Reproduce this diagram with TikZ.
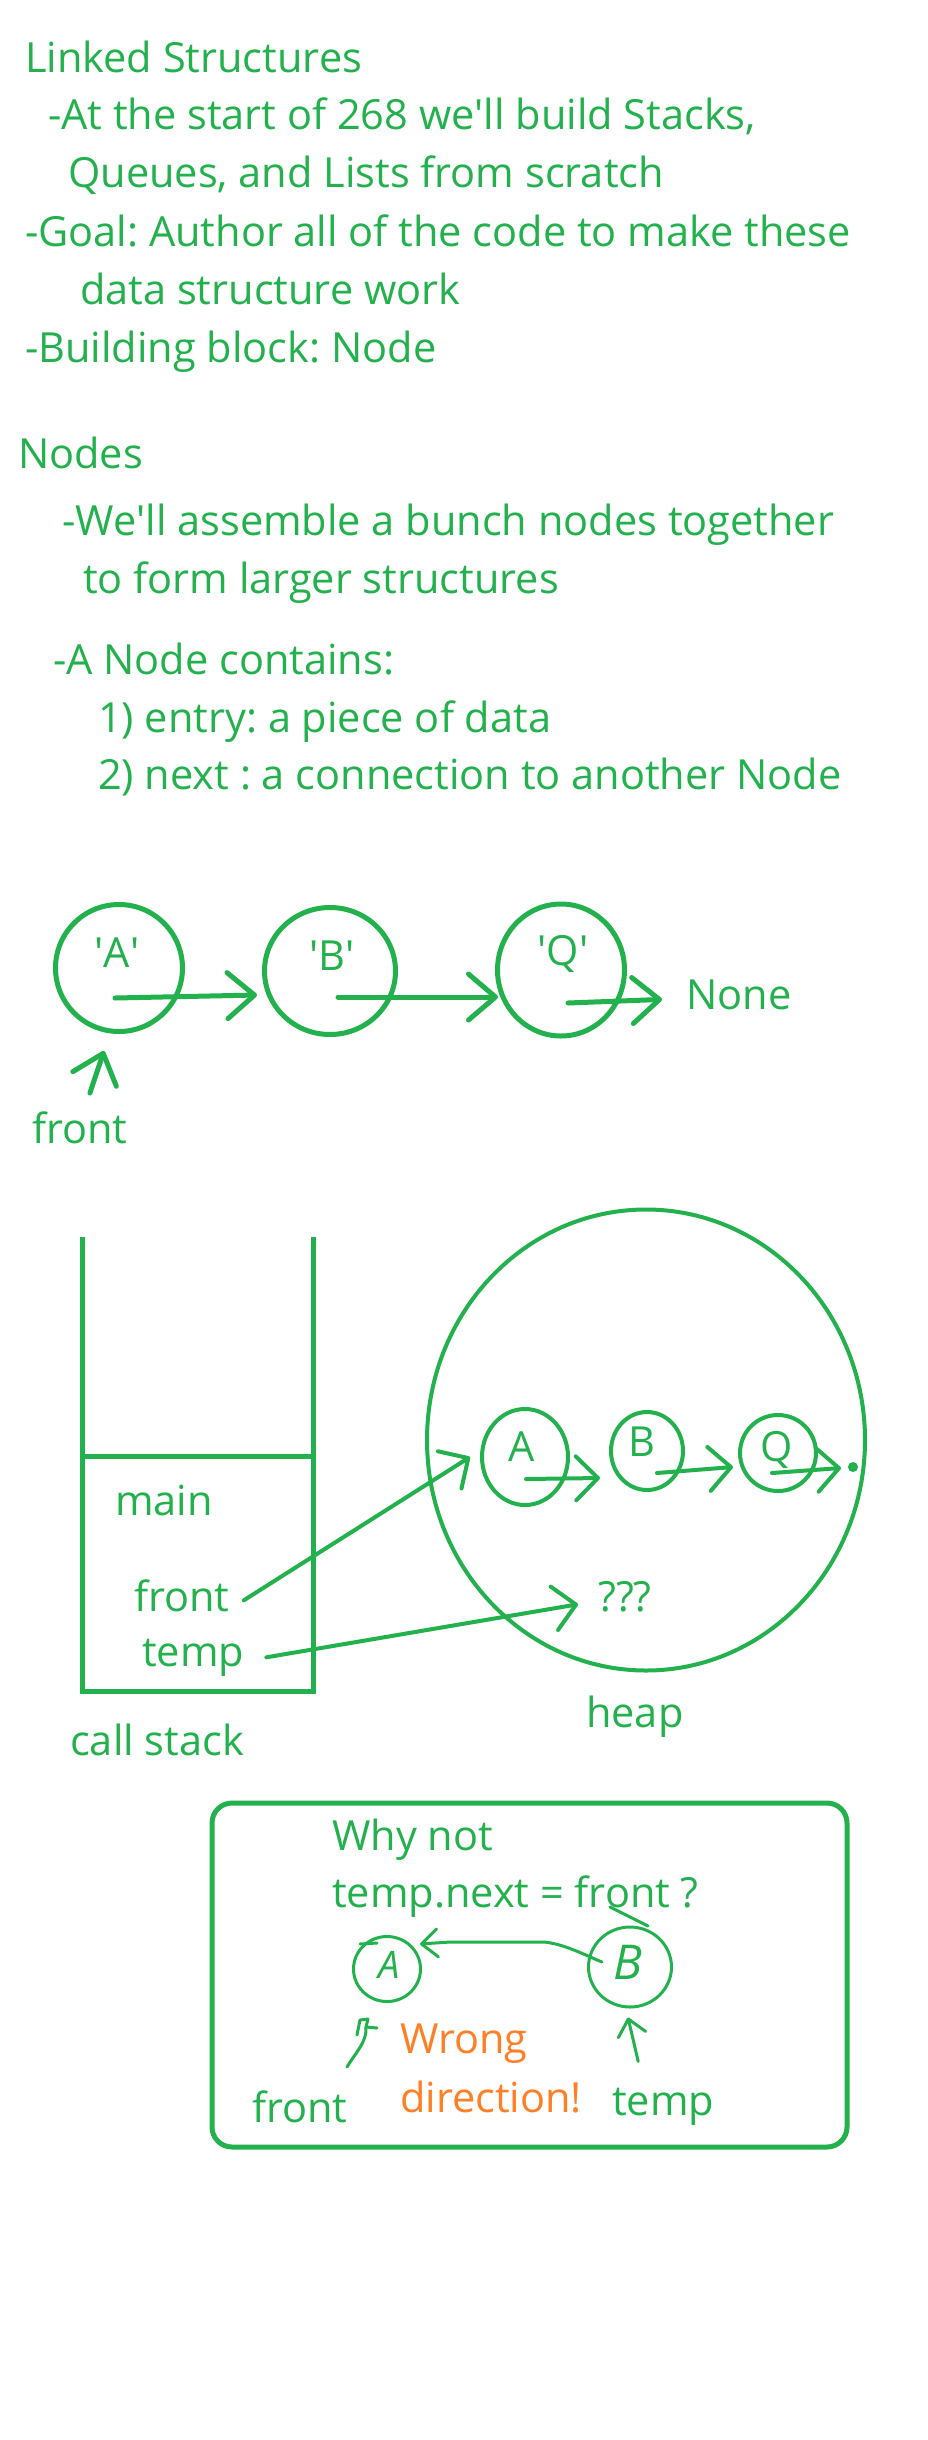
\documentclass[tikz,border=0pt]{standalone}
\usepackage{fontspec}
\setmainfont{Open Sans}
\usetikzlibrary{arrows.meta,shapes.geometric,calc}
\definecolor{G}{RGB}{34,177,76}
\definecolor{O}{RGB}{255,127,39}
\newcommand{\fs}{\fontsize{41.5}{48}\selectfont\frenchspacing}
\newcommand{\sq}{\textquotesingle}
\tikzset{
  txt/.style={anchor=base west, inner sep=0pt, text=G, font=\fs},
  lbl/.style={anchor=base, inner sep=0pt, text=G, font=\fs},
  ring/.style={draw=G, line width=5pt, ellipse, inner sep=0pt},
  ringf/.style={draw=G, line width=4pt, ellipse, inner sep=0pt},
  ringh/.style={draw=G, line width=3pt, ellipse, inner sep=0pt},
  arr/.style={draw=G, line width=5pt, line cap=round, -{Straight Barb[length=27pt,width=46pt,round]}},
  arrf/.style={draw=G, line width=4pt, line cap=round, -{Straight Barb[length=22pt,width=44pt,round]}},
  arrh/.style={draw=G, line width=3pt, line cap=round, line join=round, -{Straight Barb[length=16pt,width=28pt,round]}},
  pen/.style={draw=G, line width=5pt},
  penh/.style={draw=G, line width=3pt, line cap=round, line join=round},
  handlet/.style={anchor=center, inner sep=0pt, text=G}
}
\begin{document}
\begin{tikzpicture}[x=1pt,y=-1pt]
\useasboundingbox[fill=white] (0,0) rectangle (928,2440);

% ---- section 1
\node[txt] (t1) at (25,73) {Linked Structures};
\node[txt] (t2) at (48,130) {-At the start of 268 we\sq ll build Stacks,};
\node[txt] (t3) at (68,188) {Queues, and Lists from scratch};
\node[txt] (t4) at (25,247) {-Goal: Author all of the code to make these};
\node[txt] (t5) at (80,304) {data structure work};
\node[txt] (t6) at (25,362) {-Building block: Node};

% ---- section 2
\node[txt] (n1) at (18,468) {Nodes};
\node[txt] (n2) at (62,535) {-We\sq ll assemble a bunch nodes together};
\node[txt] (n3) at (83,593) {to form larger structures};
\node[txt] (n4) at (53,674) {-A Node contains:};
\node[txt] (n5) at (98,732) {1) entry: a piece of data};
\node[txt] (n6) at (98,789) {2) next : a connection to another Node};

% ---- diagram 1: linked list
\node[ring, minimum width=127pt, minimum height=127pt] (cA) at (119,968) {};
\node[ring, minimum width=131pt, minimum height=127pt] (cB) at (330,971) {};
\node[ring, minimum width=127pt, minimum height=132pt] (cQ) at (561,970) {};
\node[lbl] (lA) at (117,967) {\sq A\sq};
\node[lbl] (lB) at (332,970) {\sq B\sq};
\node[lbl] (lQ) at (563,965) {\sq Q\sq};
\node[txt] (none) at (686,1009) {None};
\node[txt] (fr1) at (32,1143) {front};
\draw[arr] ($(cA.center)+(-4,30)$) -- ($(cB.center)+(-73,24)$);
\draw[arr] ($(cB.center)+(8,26)$) -- ($(cQ.center)+(-63,27)$);
\draw[arr] ($(cQ.center)+(7,33)$) -- ($(none.west)+(-24,5)$);
\draw[arr] ($(fr1.north)+(10,-18)$) -- ($(cA.south)+(-15,17)$);

% ---- diagram 2: call stack and heap
\draw[pen] (82,1237) -- (82,1691) -- (313,1691) -- (313,1237);
\draw[pen] (82,1456) -- (313,1456);
\node[txt] (main) at (115,1515) {main};
\node[txt] (sfr) at (134,1611) {front};
\node[txt] (stp) at (142,1666) {temp};
\node[txt] (cs) at (70,1755) {call stack};

\node[ringf, minimum width=438pt, minimum height=461pt] (heap) at (646,1440) {};
\node[txt] (hp) at (586,1727) {heap};
\node[ringf, minimum width=86pt, minimum height=96pt] (hA) at (525,1457) {};
\node[ringf, minimum width=72pt, minimum height=78pt] (hB) at (647,1451) {};
\node[ringf, minimum width=76pt, minimum height=76pt] (hQ) at (778,1453) {};
\node[lbl] (hlA) at (522,1461) {A};
\node[lbl] (hlB) at (642,1456) {B};
\node[lbl] (hlQ) at (777,1461) {Q};
\node[circle, fill=G, inner sep=0pt, minimum size=10pt] (dot) at (853,1467) {};
\node[txt] (qq) at (598,1611) {???};
\draw[arrf] ($(hA.center)+(1,22)$) -- ($(hB.center)+(-47,27)$);
\draw[arrf] ($(hB.center)+(10,22)$) -- ($(hQ.center)+(-45,14)$);
\draw[arrf] ($(hQ.center)+(-6,20)$) -- ($(dot.center)+(-12,1)$);
\draw[arrf] ($(sfr.east)+(14,5)$) -- ($(hA.west)+(-10,0)$);
\draw[arrf] ($(stp.east)+(22,0)$) -- ($(qq.west)+(-20,8)$);

% ---- box: why not
\node[draw=G, line width=5pt, rounded corners=20pt, inner sep=0pt,
      minimum width=635pt, minimum height=344pt] (box) at (529.5,1975) {};
\node[txt] (why) at (332,1850) {Why not};
\node[txt] (tnf) at (332,1907) {temp.next = front ?};
\node[txt, text=O] (wr) at (400,2053) {Wrong};
\node[txt, text=O] (dir) at (400,2112) {direction!};
\node[txt] (bfr) at (252,2122) {front};
\node[txt] (btp) at (612,2115) {temp};
\node[ringh, minimum width=67pt, minimum height=65pt] (bA) at (387,1969) {};
\node[ringh, minimum width=83pt, minimum height=80pt] (bB) at (630,1967) {};
\node[handlet, font=\fontsize{38}{44}\selectfont\itshape] (hlet1) at (389,1965) {A};
\node[handlet, font=\fontsize{48}{54}\selectfont\itshape] (hlet2) at (628,1962) {B};
\draw[arrh] ($(bB.center)+(-28,-5)$) .. controls (585,1955) and (562,1943) .. (543,1942)
  -- (450,1942) -- ($(bA.center)+(33,-25)$);
\draw[penh] (610,1907) -- (648,1926);
\draw[penh] (360,1944) -- (377,1943);
\draw[penh] (347,2067) .. controls (356,2052) and (367,2042) .. (366,2027);
\draw[penh] (357,2035) -- (360,2020) -- (368,2019) -- (366,2027) -- (377,2028);
\draw[arrh] ($(btp.north)+(-25,-26)$) -- ($(bB.south)+(-2,9)$);
\end{tikzpicture}
\end{document}
